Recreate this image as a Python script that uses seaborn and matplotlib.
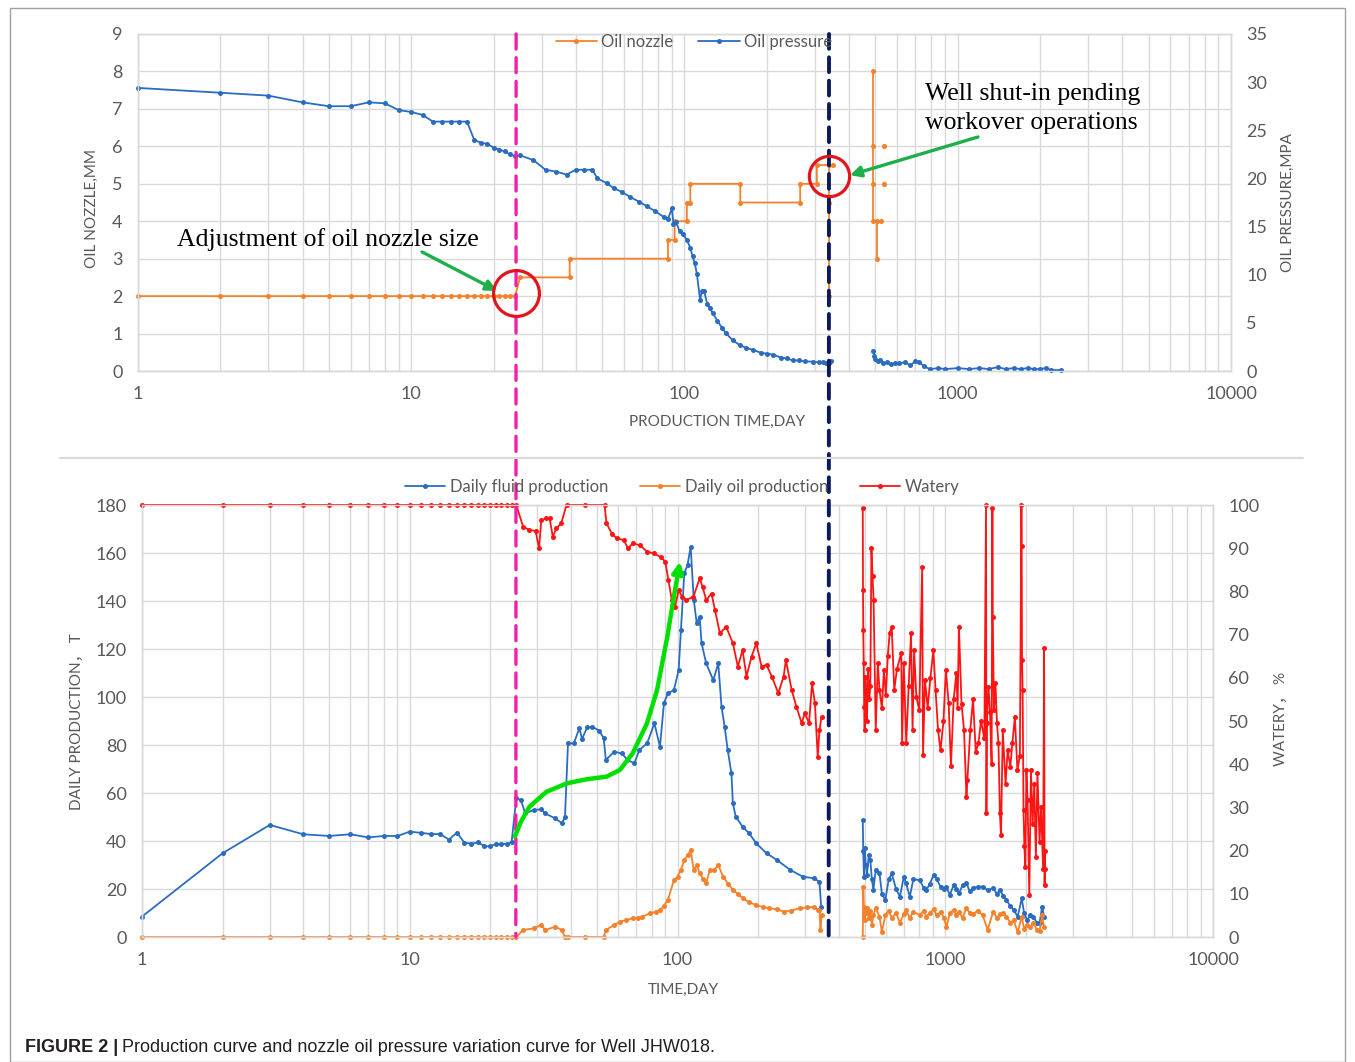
import matplotlib
matplotlib.use("Agg")
import matplotlib.pyplot as plt
import seaborn as sns
from matplotlib.lines import Line2D
from matplotlib.patches import ConnectionPatch, Rectangle
from matplotlib.ticker import LogLocator, NullFormatter

# ---------------- data ----------------
x_ticks = [1, 10, 100, 1000, 10000]
x_tick_labels = ["1", "10", "100", "1000", "10000"]
nozzle_ticks = [0, 1, 2, 3, 4, 5, 6, 7, 8, 9]
pressure_ticks = [0, 5, 10, 15, 20, 25, 30, 35]
prod_ticks = [0, 20, 40, 60, 80, 100, 120, 140, 160, 180]
watery_ticks = [0, 10, 20, 30, 40, 50, 60, 70, 80, 90, 100]

# top panel: oil nozzle (mm)
nozzle_days_1 = [1, 2, 3, 4, 5, 6, 7, 8, 9, 10, 11, 12, 13, 14, 15, 16, 17, 18, 19, 20, 21, 22, 23, 24,
                 25, 38, 38, 87, 87, 92, 92, 102, 102, 105, 105, 160, 160, 265, 265, 305, 305, 350, 338, 338, 338]
nozzle_vals_1 = [2, 2, 2, 2, 2, 2, 2, 2, 2, 2, 2, 2, 2, 2, 2, 2, 2, 2, 2, 2, 2, 2, 2, 2,
                 2.5, 2.5, 3.0, 3.0, 3.5, 3.5, 4.0, 4.0, 4.5, 4.5, 5.0, 5.0, 4.5, 4.5, 5.0, 5.0, 5.5, 5.5, 5.5, 4.5, 2.0]
nozzle_days_2 = [490, 490, 490, 490, 522, 508, 508]
nozzle_vals_2 = [8, 6, 5, 4, 4, 4, 3]
nozzle_dot_days = [537, 537]
nozzle_dot_vals = [6, 5]

# top panel: oil pressure (MPa)
pressure_days_1 = [1, 2, 3, 4, 5, 6, 7, 8, 9, 10,
                   11, 12, 13, 14, 15, 16, 17, 18, 19, 20,
                   21, 22, 23, 24, 25, 28, 31, 34, 37, 40,
                   43, 46, 48, 52, 55, 59, 63, 68, 73, 78,
                   84, 87, 90, 91, 93, 96, 99, 102, 105, 107,
                   109, 111, 114, 116, 118, 121, 124, 127, 132, 137,
                   142, 150, 159, 168, 178, 190, 200, 211, 225, 237,
                   249, 262, 275, 295, 310, 320, 330, 338, 345]
pressure_vals_1 = [29.4, 28.9, 28.6, 27.9, 27.5, 27.5, 27.9, 27.8, 27.1, 26.9,
                   26.6, 25.9, 25.9, 25.9, 25.9, 25.9, 24.0, 23.7, 23.6, 23.2,
                   23.0, 22.8, 22.5, 22.3, 22.4, 21.9, 20.9, 20.7, 20.4, 20.9,
                   20.9, 20.9, 20.0, 19.5, 19.0, 18.6, 18.1, 17.6, 17.1, 16.6,
                   16.0, 15.8, 16.9, 15.3, 15.5, 14.5, 14.2, 13.6, 12.8, 11.9,
                   11.2, 10.1, 7.4, 8.3, 8.3, 7.0, 6.5, 6.0, 5.2, 4.5,
                   3.9, 3.2, 2.7, 2.4, 2.2, 1.9, 1.8, 1.7, 1.4, 1.3,
                   1.1, 1.1, 1.0, 0.97, 0.9, 0.9, 0.8, 0.8, 1.0]
pressure_days_2 = [490, 495, 500, 510, 520, 534, 550, 570, 590, 612,
                   640, 670, 700, 722, 750, 790, 850, 900, 1000, 1100,
                   1200, 1300, 1400, 1500, 1600, 1700, 1800, 1900, 2000, 2100,
                   2200, 2380]
pressure_vals_2 = [2.1, 1.6, 1.2, 1.0, 1.1, 0.8, 0.9, 0.7, 0.8, 0.8,
                   0.9, 0.6, 1.0, 0.97, 0.5, 0.2, 0.3, 0.2, 0.3, 0.2,
                   0.3, 0.2, 0.4, 0.2, 0.3, 0.2, 0.3, 0.2, 0.2, 0.3,
                   0.1, 0.1]

# bottom panel: daily fluid production (t)
fluid_days_1 = [1, 2, 3, 4, 5, 6, 7, 8, 9, 10,
                11, 12, 13, 14, 15, 16, 17, 18, 19, 20,
                21, 22, 23, 24, 25, 26, 27, 29, 31, 32,
                35, 37, 38, 39, 41, 43, 44, 46, 48, 51,
                53, 54, 58, 62, 65, 69, 72, 77, 82, 86,
                89, 92, 97, 101, 103, 106, 109, 112, 115, 118,
                121, 123, 128, 136, 142, 146, 150, 154, 159, 161,
                165, 175, 185, 197, 215, 235, 264, 294, 323, 339,
                344]
fluid_vals_1 = [8.5, 34.9, 46.7, 42.8, 42.1, 42.8, 41.5, 42.1, 42.1, 43.9,
                43.4, 42.9, 42.9, 40.6, 43.5, 39.3, 38.9, 39.4, 37.8, 37.8,
                38.8, 38.8, 38.8, 39.4, 57.8, 57.1, 51.5, 52.9, 53.2, 51.5,
                49.4, 47.4, 50.1, 80.7, 80.7, 87.0, 82.5, 87.4, 87.6, 86.0,
                82.8, 73.8, 77.2, 76.5, 73.8, 72.4, 77.9, 80.7, 89.0, 79.3,
                97.4, 101.5, 102.9, 111.3, 127.9, 151.5, 155.0, 162.6, 140.4, 130.7,
                133.5, 122.4, 114.0, 107.0, 114.0, 96.0, 87.6, 77.9, 68.2, 55.7,
                50.1, 46.0, 43.2, 39.0, 34.9, 32.1, 27.9, 25.1, 24.5, 23.0,
                12.6]
late_days = [492, 494, 497, 500, 505, 510, 518, 525, 532, 539,
             550, 568, 580, 597, 615, 631, 655, 677, 700, 714,
             737, 760, 803, 830, 849, 875, 904, 930, 960, 990,
             1010, 1040, 1075, 1100, 1125, 1160, 1200, 1235, 1270, 1320,
             1380, 1440, 1510, 1560, 1600, 1650, 1690, 1750, 1800, 1865,
             1930, 1970, 2020, 2080, 2130, 2200, 2250, 2300, 2340]
fluid_vals_2 = [48.8, 36.0, 25.1, 37.0, 30.0, 26.0, 34.0, 32.1, 24.0, 19.6,
                28.0, 26.5, 18.0, 15.4, 24.0, 26.5, 20.0, 16.8, 25.0, 22.4,
                16.8, 24.0, 23.7, 20.5, 19.6, 22.0, 25.8, 24.0, 21.0, 20.0,
                21.0, 17.5, 21.7, 20.0, 18.2, 21.5, 22.4, 19.0, 20.3, 21.0,
                21.0, 19.5, 20.3, 18.0, 19.6, 17.0, 15.4, 13.0, 11.3, 8.5,
                16.1, 10.0, 7.1, 9.0, 8.5, 6.0, 5.7, 12.6, 8.5]

# bottom panel: daily oil production (t)
oil_days_1 = [1, 2, 3, 4, 5, 6, 7, 8, 9, 10,
              11, 12, 13, 14, 15, 16, 17, 18, 19, 20,
              21, 22, 23, 24, 25, 26.5, 29, 31, 32, 35,
              37, 38, 39, 45, 53, 54, 58, 61, 64, 68,
              71, 74, 79, 83, 86, 89, 92, 97, 100, 103,
              106, 109, 112, 115, 118, 121, 125, 128, 132, 137,
              142, 148, 155, 161, 168, 175, 185, 197, 208, 220,
              235, 249, 265, 287, 305, 323, 335, 339, 342, 345]
oil_vals_1 = [0, 0, 0, 0, 0, 0, 0, 0, 0, 0,
              0, 0, 0, 0, 0, 0, 0, 0, 0, 0,
              0, 0, 0, 0, 0, 2.9, 3.6, 5.0, 2.9, 4.3,
              2.9, 0, 0, 0, 0, 2.9, 5.0, 6.4, 7.0, 7.8,
              8.0, 8.5, 9.9, 10.5, 11.3, 13.0, 15.4, 23.7, 25.1, 28.0,
              32.1, 34.0, 36.2, 27.9, 30.0, 26.5, 24.0, 22.4, 28.0, 27.9,
              30.0, 25.1, 22.0, 19.6, 18.0, 16.1, 14.5, 13.3, 12.5, 12.0,
              11.5, 10.6, 11.0, 12.0, 12.3, 12.6, 11.3, 11.3, 2.9, 9.0]
oil_vals_2 = [0, 21.0, 12.6, 7.1, 10.0, 12.0, 8.0, 11.0, 5.0, 9.0,
              12.0, 8.5, 2.0, 9.0, 11.0, 8.0, 10.0, 6.0, 9.5, 11.3,
              8.0, 10.5, 9.0, 11.0, 8.5, 10.0, 11.5, 9.0, 10.5, 8.0,
              4.0, 10.0, 11.3, 9.0, 10.5, 8.0, 12.0, 10.0, 9.5, 11.0,
              9.0, 3.0, 10.5, 8.0, 9.5, 10.0, 8.5, 6.0, 7.0, 2.0,
              8.5, 3.5, 5.0, 4.0, 6.0, 3.0, 2.5, 9.0, 4.0]

# bottom panel: watery (%)
watery_days_1 = [1, 2, 3, 4, 5, 6, 7, 8, 9, 10,
                 11, 12, 13, 14, 15, 16, 17, 18, 19, 20,
                 21, 22, 23, 24, 25, 26.5, 28, 29.5, 30.4, 31,
                 32.4, 33.3, 34.2, 35.3, 36.8, 38.5, 45, 53.4, 54.3, 56.8,
                 59.2, 62.9, 65.4, 68, 72.5, 76.9, 81.5, 86.4, 90, 92.5,
                 95.2, 98, 101, 104, 108, 114.7, 121, 124, 128, 134,
                 138, 144, 152, 161, 168, 175, 181, 189, 197, 206,
                 215, 225, 238, 249, 254, 267, 278, 291, 299, 310,
                 318, 326, 334, 339, 345]
watery_vals_1 = [100, 100, 100, 100, 100, 100, 100, 100, 100, 100,
                 100, 100, 100, 100, 100, 100, 100, 100, 100, 100,
                 100, 100, 100, 100, 100, 95, 94.2, 94, 90, 96.5,
                 96.9, 96.9, 92.7, 94.6, 95.8, 100, 100, 100, 95.8, 93.4,
                 92.3, 91.9, 90, 91.1, 90.7, 89.2, 88.8, 88, 86.9, 82.6,
                 78, 76.5, 80.3, 78.8, 78, 78.8, 83, 81.1, 78, 79.5,
                 75.7, 70.3, 71.8, 68, 62.6, 66.4, 60.3, 64.9, 68, 62.6,
                 63, 60.3, 56.4, 60.3, 64.1, 57.2, 53.3, 49.5, 51.8, 49.5,
                 58.7, 54.1, 41.7, 47.9, 51]
watery_days_2 = [492, 493, 494, 496, 498, 500, 503, 506, 510, 515,
                 520, 525, 530, 535, 540, 550, 560, 568, 580, 590,
                 600, 610, 620, 631, 645, 660, 685, 690, 700, 715,
                 730, 745, 755, 765, 780, 800, 820, 826, 840, 860,
                 880, 903, 920, 940, 960, 985, 1005, 1030, 1050, 1075,
                 1100, 1112, 1125, 1150, 1175, 1200, 1210, 1240, 1270, 1300,
                 1330, 1360, 1400, 1420, 1425, 1430, 1450, 1470, 1490, 1500,
                 1505, 1520, 1540, 1560, 1580, 1600, 1615, 1640, 1680, 1710,
                 1750, 1780, 1820, 1860, 1900, 1925, 1930, 1935, 1945, 1960,
                 1975, 1990, 2010, 2030, 2060, 2090, 2120, 2150, 2180, 2210,
                 2250, 2280, 2320, 2340, 2350, 2355, 2360]
watery_vals_2 = [99.2, 80.3, 71, 63.4, 53.3, 47.9, 60.3, 56, 50, 62,
                 55, 58, 90, 83.5, 78, 47.9, 63.4, 57.2, 53, 61.7,
                 56, 65, 70.3, 71.8, 57.2, 62, 65.7, 44.8, 63.4, 44.8,
                 58, 70.3, 47.9, 66.4, 55.6, 52.5, 85.7, 42.1, 59.4, 53,
                 60, 66.4, 57.2, 47.9, 43.2, 50, 61.8, 54.1, 39.5, 55,
                 61, 53, 71.8, 54, 48, 32.5, 36.3, 47.9, 55, 42.9,
                 44.8, 50, 46, 100, 28.6, 49.5, 57.9, 52, 40, 99.2,
                 74, 52.5, 58.7, 49.5, 45, 28.6, 23.5, 47.9, 35.5, 43.2,
                 39.4, 44.8, 50.9, 38.6, 42, 100, 90.4, 64.1, 57.2, 29.4,
                 21, 16.3, 38.6, 31.6, 9.8, 38.6, 26.2, 35.5, 18.5, 37.9,
                 22, 30, 15.8, 66.8, 12.1, 15.8, 20]

# green guide curve (bottom panel, in day / t units)
guide_days = [24.7, 26, 28, 32.4, 38.6, 45.6, 54.3, 60.9, 68, 76.9, 83.9, 91.6, 96.9]
guide_vals = [41.8, 48, 54.3, 60.5, 64, 65.7, 66.8, 69.6, 76.5, 89, 102.9, 125.1, 141.8]

# ---------------- style ----------------
sns.set_theme(style="white")
plt.rcParams["font.family"] = ["Lato", "Noto Sans CJK SC", "DejaVu Sans"]

ORANGE = "#F5822A"
BLUE = "#2A6DC0"
RED = "#FF1414"
GRID = "#D9D9D9"
TXT = "#595959"
GREEN = "#1DB04A"
LIME = "#00E000"

W, H = 1355, 1062
fig = plt.figure(figsize=(W / 100, H / 100), dpi=100)
fig.patch.set_facecolor("white")


def fx(px):
    return px / W


def fy(py):
    return 1 - py / H


ax1 = fig.add_axes([fx(138), fy(371), (1231 - 138) / W, (371 - 34) / H])
ax1r = ax1.twinx()
ax2 = fig.add_axes([fx(142), fy(937), (1213 - 142) / W, (937 - 505) / H])
ax2r = ax2.twinx()

for a in (ax1, ax2):
    a.set_xscale("log")


def draw(a, x, y, color, lw=1.3, ms=3.6):
    sns.lineplot(x=x, y=y, ax=a, color=color, linewidth=lw, marker="o",
                 markersize=ms, markeredgewidth=0, estimator=None, sort=False,
                 legend=False, clip_on=False)


# top panel
draw(ax1, nozzle_days_1, nozzle_vals_1, ORANGE)
draw(ax1, nozzle_days_2, nozzle_vals_2, ORANGE)
sns.scatterplot(x=nozzle_dot_days, y=nozzle_dot_vals, ax=ax1, color=ORANGE, s=14,
                linewidth=0, legend=False)
draw(ax1r, pressure_days_1, pressure_vals_1, BLUE)
draw(ax1r, pressure_days_2, pressure_vals_2, BLUE)

# bottom panel
draw(ax2, fluid_days_1, fluid_vals_1, BLUE)
draw(ax2, late_days, fluid_vals_2, BLUE)
draw(ax2, oil_days_1, oil_vals_1, ORANGE)
draw(ax2, late_days, oil_vals_2, ORANGE)
draw(ax2r, watery_days_1, watery_vals_1, RED)
draw(ax2r, watery_days_2, watery_vals_2, RED)

# axes formatting
for a in (ax1, ax2):
    a.set_xlim(1, 10000)
    a.set_xticks(x_ticks, labels=x_tick_labels)
    a.xaxis.set_minor_locator(LogLocator(base=10, subs=(2, 3, 4, 5, 6, 7, 8, 9), numticks=20))
    a.xaxis.set_minor_formatter(NullFormatter())
    a.grid(True, which="both", axis="x", color=GRID, lw=1)
    a.grid(True, which="major", axis="y", color=GRID, lw=1)
    a.set_axisbelow(True)

ax1.set_ylim(0, 9)
ax1.set_yticks(nozzle_ticks)
ax1r.set_ylim(0, 35)
ax1r.set_yticks(pressure_ticks)
ax2.set_ylim(0, 180)
ax2.set_yticks(prod_ticks)
ax2r.set_ylim(0, 100)
ax2r.set_yticks(watery_ticks)

for a in (ax1, ax1r, ax2, ax2r):
    a.tick_params(which="both", length=0, labelsize=13, labelcolor=TXT, pad=11)
    for s in a.spines.values():
        s.set_color(GRID)
        s.set_linewidth(1)
ax1r.grid(False)
ax2r.grid(False)

lab_kw = dict(fontsize=11, color=TXT)
ax1.set_ylabel("OIL NOZZLE,MM", **lab_kw)
ax1r.set_ylabel("OIL PRESSURE,MPA", **lab_kw)
ax1.set_xlabel("PRODUCTION TIME,DAY", **lab_kw)
ax2.set_ylabel("DAILY PRODUCTION， T", **lab_kw)
ax2r.set_ylabel("WATERY， %", **lab_kw)
ax2.set_xlabel("TIME,DAY", **lab_kw)
for a in (ax1, ax1r, ax2, ax2r):
    a.yaxis.label.set_va("center")
    a.xaxis.label.set_va("center")
ax1.yaxis.set_label_coords((92 - 138) / 1093, 0.481)
ax1r.yaxis.set_label_coords((1288 - 138) / 1093, 0.499)
ax1.xaxis.set_label_coords((717 - 138) / 1093, (371 - 422) / 337)
ax2.yaxis.set_label_coords((77 - 142) / 1071, 0.498)
ax2r.yaxis.set_label_coords((1281 - 142) / 1071, 0.505)
ax2.xaxis.set_label_coords((683 - 142) / 1071, (937 - 990) / 432)


# legends
def h(c):
    return Line2D([], [], color=c, lw=1.3, marker="o", markersize=3.6, markeredgewidth=0)


fig.legend([h(ORANGE), h(BLUE)], ["Oil nozzle", "Oil pressure"], loc="center",
           bbox_to_anchor=(fx(694), fy(42)), ncol=2, frameon=False, fontsize=12,
           labelcolor=TXT, handlelength=2.5, handletextpad=0.25, columnspacing=1.5)
fig.legend([h(BLUE), h(ORANGE), h(RED)],
           ["Daily fluid production", "Daily oil production", "Watery"], loc="center",
           bbox_to_anchor=(fx(682), fy(487)), ncol=3, frameon=False, fontsize=12,
           labelcolor=TXT, handlelength=2.4, handletextpad=0.3, columnspacing=1.9)

# dashed vertical markers spanning both panels
fig.add_artist(ConnectionPatch(xyA=(24.2, 1), coordsA=ax1.get_xaxis_transform(),
                               xyB=(24.9, 0), coordsB=ax2.get_xaxis_transform(),
                               color="#F020A8", lw=2.4, linestyle=(0, (4.5, 2.6))))
fig.add_artist(ConnectionPatch(xyA=(338, 1), coordsA=ax1.get_xaxis_transform(),
                               xyB=(367, 0), coordsB=ax2.get_xaxis_transform(),
                               color="#0B1A5C", lw=2.8, linestyle=(0, (3.8, 2.2))))

# annotations, top panel
fig.text(1.39, 3.5, "Adjustment of oil nozzle size", transform=ax1.transData,
         family="Liberation Serif", fontsize=18.5, color="black", ha="left", va="center")
fig.text(759, 7.02, "Well shut-in pending\nworkover operations", transform=ax1.transData,
         family="Liberation Serif", fontsize=18.5, color="black", ha="left", va="center",
         linespacing=1.4)
fig.add_artist(Line2D([24.2], [2.08], transform=ax1.transData, marker="o", ms=33,
                      mfc="none", mec="#E3141C", mew=2.3, ls="none"))
fig.add_artist(Line2D([338], [5.2], transform=ax1.transData, marker="o", ms=29,
                      mfc="none", mec="#E3141C", mew=2.3, ls="none"))
fig.add_artist(ConnectionPatch(xyA=(10.95, 3.18), coordsA=ax1.transData,
                               xyB=(20.6, 2.14), coordsB=ax1.transData,
                               arrowstyle="-|>", mutation_scale=16, color=GREEN, lw=2.4))
fig.add_artist(ConnectionPatch(xyA=(1186, 6.25), coordsA=ax1.transData,
                               xyB=(403, 5.23), coordsB=ax1.transData,
                               arrowstyle="-|>", mutation_scale=16, color=GREEN, lw=2.4))

# green guide curve, bottom panel
fig.add_artist(Line2D(guide_days, guide_vals, transform=ax2.transData, color=LIME, lw=3.2,
                      solid_capstyle="round"))
fig.add_artist(ConnectionPatch(xyA=(guide_days[-1], guide_vals[-1]), coordsA=ax2.transData,
                               xyB=(102.2, 156.4), coordsB=ax2.transData,
                               arrowstyle="-|>", mutation_scale=16, color=LIME, lw=3.2))

# frame, separator and caption
fig.add_artist(Rectangle((fx(10), 0), (1345 - 10) / W, fy(8), transform=fig.transFigure,
                         fill=False, ec="#A0A0A0", lw=1))
fig.add_artist(Line2D([fx(60), fx(1303)], [fy(458), fy(458)], transform=fig.transFigure,
                      color=GRID, lw=1.5))
t1 = fig.text(fx(25), fy(1047), "FIGURE 2 |", family="Liberation Sans", fontweight="bold",
              fontsize=13, color="#231F20", ha="left", va="center")
fig.canvas.draw()
bb = t1.get_window_extent()
fig.text((bb.x1 + 4) / W, fy(1047),
         "Production curve and nozzle oil pressure variation curve for Well JHW018.",
         family="Liberation Sans", fontsize=13, color="#231F20", ha="left", va="center")

fig.savefig("out.png", dpi=100)
